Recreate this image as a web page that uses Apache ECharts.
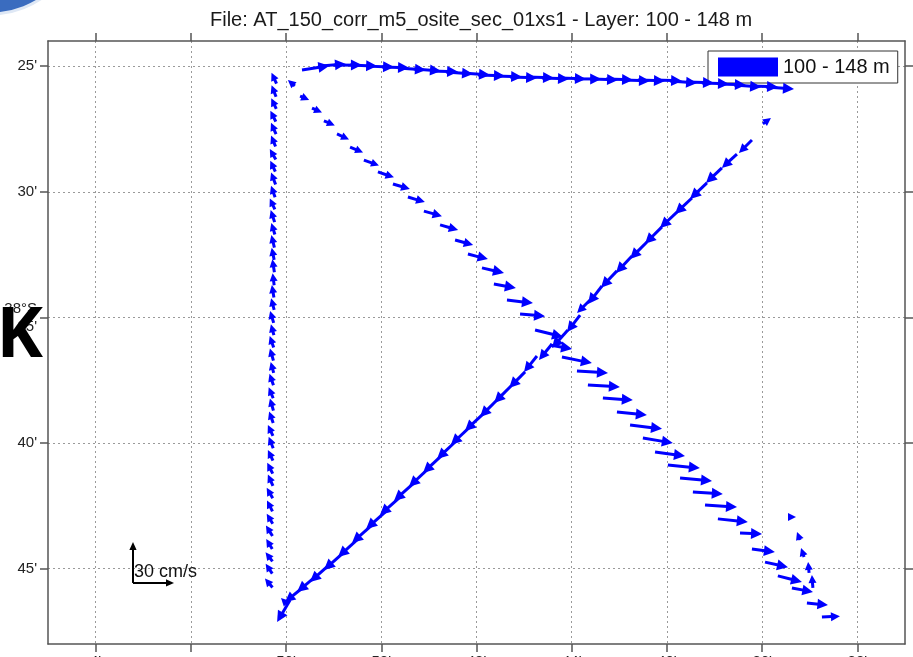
<!DOCTYPE html>
<html>
<head>
<meta charset="utf-8">
<script src="https://cdn.jsdelivr.net/npm/echarts@6/dist/echarts.min.js"></script>
<style>
  html, body { margin: 0; padding: 0; background: #fff; }
  #chart { width: 913px; height: 657px; }
</style>
</head>
<body>
<div id="chart"></div>
<script>
// axis ticks: longitude minutes W (x, inverted), latitude minutes S (y, inverted)
var xTicks = [32, 36, 40, 44, 48, 52, 56, 60, 64];
var xTickLabels = ["32'", "36'", "40'", "44'", "48'", "52'", "56'", "", "4'"];
var yTicks = [25, 30, 35, 40, 45];
var yTickLabels = ["25'", "30'", "38°S\n35'", "40'", "45'"];

// current vectors: [lon, lat, u (cm/s east), v (cm/s north)]
var trackNorth = [
  [56.40, 25.70, -3.7, 8.0], [56.42, 26.22, -3.3, 8.4], [56.41, 26.70, -3.7, 7.7],
  [56.43, 27.21, -4.0, 8.0], [56.42, 27.71, -3.7, 8.4], [56.44, 28.20, -3.3, 8.0],
  [56.43, 28.72, -4.4, 7.7], [56.45, 29.20, -3.7, 8.0], [56.44, 29.71, -3.3, 8.8],
  [56.46, 30.22, -3.0, 8.4], [56.47, 30.70, -3.7, 8.0], [56.48, 31.21, -2.9, 8.8],
  [56.47, 31.70, -2.6, 8.4], [56.49, 32.22, -2.2, 9.1], [56.50, 32.71, -1.8, 8.8],
  [56.49, 33.20, -1.5, 9.5], [56.50, 33.72, -1.1, 8.8], [56.51, 34.21, -1.5, 9.1],
  [56.50, 34.70, -2.2, 8.4], [56.52, 35.22, -2.6, 8.8], [56.51, 35.71, -2.2, 8.0],
  [56.52, 36.20, -2.9, 8.4], [56.53, 36.72, -2.6, 8.8], [56.52, 37.21, -2.2, 8.0],
  [56.53, 37.70, -2.9, 8.4], [56.54, 38.22, -3.3, 8.0], [56.53, 38.71, -2.6, 8.8],
  [56.54, 39.20, -3.0, 8.4], [56.55, 39.72, -3.7, 8.0], [56.54, 40.21, -3.3, 8.4],
  [56.55, 40.70, -3.7, 7.7], [56.56, 41.22, -4.0, 8.0], [56.55, 41.71, -3.7, 8.4],
  [56.56, 42.20, -4.4, 7.7], [56.57, 42.72, -4.0, 8.0], [56.56, 43.21, -4.4, 7.3],
  [56.57, 43.70, -4.8, 7.7], [56.58, 44.22, -4.4, 7.3], [56.57, 44.71, -5.1, 6.6],
  [56.58, 45.20, -4.8, 7.3], [56.57, 45.75, -5.5, 6.6]
];
var trackEast = [
  [55.33, 25.15, 20.0, 3.0], [54.66, 25.00, 20.5, 1.5], [53.99, 24.96, 20.5, 0.0],
  [53.31, 24.96, 19.8, -0.7], [52.64, 25.00, 20.5, -0.7], [51.97, 25.03, 19.8, -0.7],
  [51.30, 25.07, 20.5, -1.5], [50.63, 25.11, 19.8, -1.5], [49.95, 25.19, 20.5, -0.7],
  [49.28, 25.23, 19.8, -1.5], [48.61, 25.27, 20.5, -1.5], [47.94, 25.35, 19.8, -0.7],
  [47.26, 25.39, 20.5, -0.7], [46.59, 25.43, 19.8, -0.7], [45.92, 25.43, 20.5, -0.7],
  [45.25, 25.47, 19.8, -0.7], [44.58, 25.47, 20.5, -0.7], [43.90, 25.51, 19.8, 0.0],
  [43.23, 25.51, 20.5, -0.7], [42.56, 25.51, 19.8, -0.7], [41.89, 25.55, 20.5, -0.7],
  [41.22, 25.55, 19.8, -0.7], [40.54, 25.55, 20.5, -0.7], [39.87, 25.59, 19.8, -1.5],
  [39.20, 25.63, 20.5, -0.7], [38.53, 25.67, 19.8, -0.7], [37.86, 25.71, 20.5, -0.7],
  [37.18, 25.75, 19.8, -1.5], [36.51, 25.79, 20.5, -0.7], [35.84, 25.83, 20.5, -1.5]
];
var trackSouthEast = [
  [55.63, 25.79, -5.1, 4.4], [55.41, 26.19, 6.6, -2.9], [54.91, 26.67, 7.3, -3.3],
  [54.41, 27.18, 8.0, -3.3], [53.86, 27.70, 8.8, -4.0], [53.31, 28.22, 9.5, -4.0],
  [52.73, 28.74, 11.0, -4.0], [52.14, 29.21, 11.7, -4.0], [51.51, 29.69, 12.4, -3.7],
  [50.88, 30.21, 12.4, -3.7], [50.21, 30.77, 13.2, -3.7], [49.53, 31.32, 13.2, -3.7],
  [48.90, 31.92, 13.2, -3.7], [48.36, 32.48, 14.6, -3.7], [47.77, 33.03, 16.1, -3.7],
  [47.27, 33.67, 16.1, -2.9], [46.72, 34.31, 19.0, -2.2], [46.17, 34.87, 18.3, -1.5],
  [45.54, 35.50, 20.5, -5.1], [44.91, 36.10, 16.1, -2.9], [44.41, 36.58, 21.9, -4.4],
  [43.78, 37.13, 22.7, -1.5], [43.32, 37.69, 23.4, -1.5], [42.69, 38.21, 21.9, -1.5],
  [42.10, 38.77, 21.9, -2.2], [41.55, 39.28, 23.4, -2.9], [41.01, 39.80, 21.9, -3.7],
  [40.50, 40.36, 21.9, -2.9], [39.96, 40.88, 23.4, -2.2], [39.45, 41.39, 23.4, -2.2],
  [38.91, 41.95, 21.9, -1.5], [38.40, 42.47, 23.4, -1.5], [37.86, 43.02, 21.9, -2.2],
  [36.93, 43.58, 16.1, -0.7], [36.43, 44.22, 16.8, -2.2], [35.88, 44.74, 16.8, -3.7],
  [35.34, 45.29, 17.6, -4.4], [34.75, 45.77, 15.4, -2.9], [34.12, 46.37, 15.4, -1.5],
  [33.49, 46.93, 13.2, 0.7]
];
var trackSouthWest = [
  [35.97, 27.30, 5.9, 4.4], [36.43, 27.94, -9.5, -9.5], [37.06, 28.50, -11.0, -10.2],
  [37.69, 29.05, -11.7, -11.0], [38.32, 29.65, -12.4, -11.7], [38.95, 30.25, -12.4, -11.7],
  [39.58, 30.81, -12.4, -11.7], [40.21, 31.40, -12.4, -12.4], [40.84, 32.00, -12.4, -12.4],
  [41.47, 32.56, -11.7, -12.4], [42.10, 33.15, -11.7, -12.4], [42.73, 33.75, -10.2, -13.2],
  [43.23, 34.31, -9.5, -9.5], [43.65, 34.91, -9.5, -12.4], [44.16, 35.50, -11.7, -13.2],
  [44.83, 36.06, -9.5, -11.7], [45.46, 36.54, -9.5, -11.7], [45.96, 37.17, -11.7, -11.7],
  [46.55, 37.73, -12.4, -12.4], [47.14, 38.29, -12.4, -12.4], [47.73, 38.85, -13.2, -12.4],
  [48.32, 39.40, -13.2, -12.4], [48.90, 39.96, -13.2, -12.4], [49.49, 40.52, -13.2, -12.4],
  [50.08, 41.07, -13.2, -12.4], [50.67, 41.63, -13.9, -12.4], [51.26, 42.19, -13.9, -12.4],
  [51.84, 42.75, -13.9, -12.4], [52.43, 43.30, -13.9, -12.4], [53.02, 43.86, -13.9, -12.4],
  [53.61, 44.38, -13.9, -12.4], [54.20, 44.86, -13.9, -12.4], [54.78, 45.33, -13.2, -11.0],
  [55.37, 45.81, -11.7, -9.5], [55.83, 46.25, -9.5, -16.1], [55.96, 46.41, -4.4, 4.4]
];
var trackTurn = [
  [34.75, 42.95, 3.0, 0.0], [34.41, 43.86, -2.2, 5.9], [34.24, 44.54, -2.2, 6.6],
  [34.03, 45.17, -0.7, 8.0], [33.87, 45.77, -0.7, 9.5]
];
var scaleArrows = [[62.43, 45.57, 0, 30], [62.43, 45.57, 30, 0]];

var PX_PER_CMS = 41 / 30;

function makeArrow(headMin, headMax, headRatio, shaftWidth) {
  return function (params, api) {
    var p = api.coord([api.value(0), api.value(1)]);
    var dx = api.value(2) * PX_PER_CMS;
    var dy = -api.value(3) * PX_PER_CMS;
    var len = Math.sqrt(dx * dx + dy * dy) || 1;
    var ux = dx / len, uy = dy / len;
    var hl = Math.min(headMax, Math.max(headMin, len * 0.5));
    var hw = hl * headRatio;
    var tip = [p[0] + dx, p[1] + dy];
    var base = [tip[0] - ux * hl, tip[1] - uy * hl];
    var color = api.visual('color');
    var kids = [];
    if (len > hl) {
      kids.push({ type: 'line', shape: { x1: p[0], y1: p[1], x2: base[0] + ux, y2: base[1] + uy },
        style: { stroke: color, lineWidth: shaftWidth } });
    }
    kids.push({ type: 'polygon',
      shape: { points: [tip, [base[0] - uy * hw, base[1] + ux * hw], [base[0] + uy * hw, base[1] - ux * hw]] },
      style: { fill: color } });
    return { type: 'group', children: kids };
  };
}

var allArrows = [].concat(trackNorth, trackEast, trackSouthEast, trackSouthWest, trackTurn);

var axisLineStyle = { color: '#555', width: 1.5 };
var labelFont = 'Liberation Sans';

var chart = echarts.init(document.getElementById('chart'));
chart.setOption({
  backgroundColor: '#fff',
  animation: false,
  title: {
    text: 'File: AT_150_corr_m5_osite_sec_01xs1 - Layer: 100 - 148 m',
    left: 205, top: 5,
    textStyle: { fontSize: 20, fontWeight: 'normal', color: '#1a1a1a', fontFamily: labelFont }
  },
  legend: {
    data: [{ name: '100 - 148 m', icon: 'rect' }],
    left: 708, top: 51,
    itemWidth: 60, itemHeight: 19,
    padding: [6, 8, 6, 10],
    backgroundColor: '#fff', borderColor: '#333', borderWidth: 1,
    textStyle: { fontSize: 20, color: '#111', fontFamily: labelFont }
  },
  grid: { left: 48, right: 8, top: 41, bottom: 13, containLabel: false, outerBoundsMode: 'none' },
  xAxis: [{
    type: 'value', position: 'bottom', min: 30, max: 66, inverse: true,
    axisLine: { show: true, onZero: false, lineStyle: axisLineStyle },
    axisTick: { show: true, length: 8, customValues: xTicks, lineStyle: axisLineStyle },
    axisLabel: {
      customValues: xTicks, margin: 10, color: '#222', fontSize: 15, fontFamily: labelFont,
      formatter: function (v) { var i = xTicks.indexOf(v); return i < 0 ? '' : xTickLabels[i]; }
    },
    splitLine: { show: true, lineStyle: { color: '#9a9a9a', width: 1, type: [2, 3] } }
  }, {
    type: 'value', position: 'top', min: 30, max: 66, inverse: true,
    axisLine: { show: true, onZero: false, lineStyle: axisLineStyle },
    axisTick: { show: true, length: 8, customValues: xTicks, lineStyle: axisLineStyle },
    axisLabel: { show: false },
    splitLine: { show: false }
  }],
  yAxis: [{
    type: 'value', position: 'left', min: 24, max: 48, inverse: true,
    axisLine: { show: true, onZero: false, lineStyle: axisLineStyle },
    axisTick: { show: true, length: 8, customValues: yTicks, lineStyle: axisLineStyle },
    axisLabel: {
      customValues: yTicks, margin: 11, color: '#222', fontSize: 15, fontFamily: labelFont,
      lineHeight: 18,
      formatter: function (v) { var i = yTicks.indexOf(v); return i < 0 ? '' : yTickLabels[i]; }
    },
    splitLine: { show: true, lineStyle: { color: '#9a9a9a', width: 1, type: [2, 3] } }
  }, {
    type: 'value', position: 'right', min: 24, max: 48, inverse: true,
    axisLine: { show: true, onZero: false, lineStyle: axisLineStyle },
    axisTick: { show: true, length: 8, customValues: yTicks, lineStyle: axisLineStyle },
    axisLabel: { show: false },
    splitLine: { show: false }
  }],
  series: [{
    name: '100 - 148 m',
    type: 'custom',
    renderItem: makeArrow(8, 11, 0.5, 3),
    itemStyle: { color: '#0000ff' },
    encode: { x: 0, y: 1 },
    data: allArrows,
    z: 5
  }, {
    name: 'scale',
    type: 'custom',
    renderItem: makeArrow(7, 8, 0.45, 2),
    itemStyle: { color: '#000' },
    encode: { x: 0, y: 1 },
    data: scaleArrows,
    z: 5
  }],
  graphic: [
    { type: 'text', left: 134, top: 563, z: 10,
      style: { text: '30 cm/s', font: '18px "Liberation Sans"', fill: '#111' } },
    { type: 'text', x: 43, y: 337, z: 20,
      style: { text: 'K', font: 'bold 70px "Open Sans"', fill: '#000', textAlign: 'right', textVerticalAlign: 'middle' } },
    { type: 'circle', z: 20,
      shape: { cx: -10, cy: -78, r: 92 },
      style: { fill: '#3a6cbf', stroke: '#dfe8f5', lineWidth: 3 } }
  ]
});
</script>
</body>
</html>
